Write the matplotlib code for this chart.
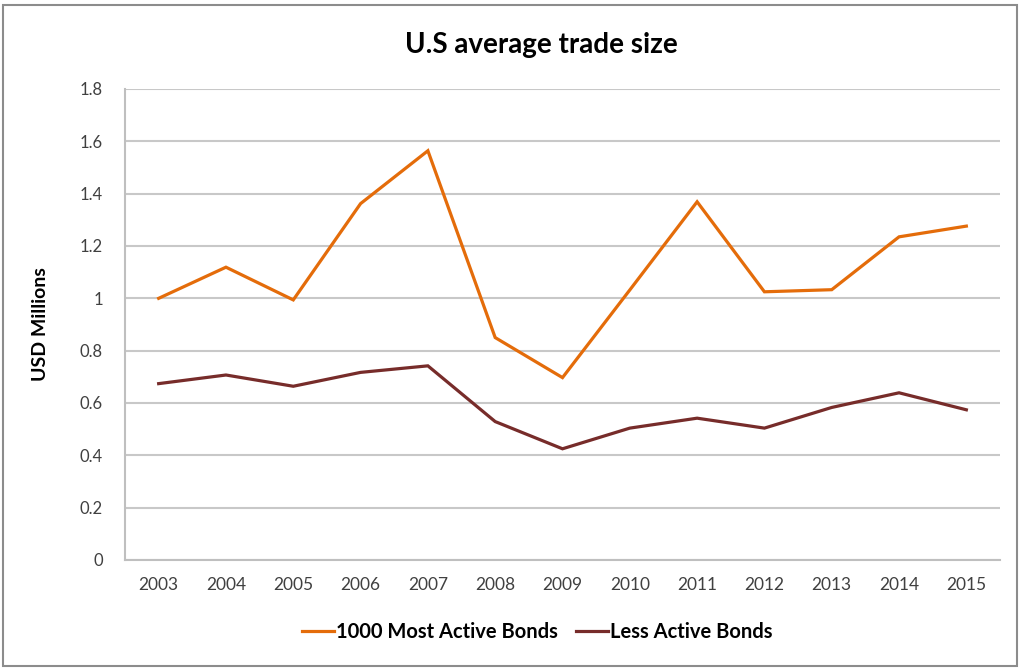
import matplotlib
matplotlib.use("Agg")
import matplotlib.pyplot as plt
from matplotlib.patches import Rectangle

years = ["2003", "2004", "2005", "2006", "2007", "2008", "2009",
         "2010", "2011", "2012", "2013", "2014", "2015"]
most_active = [1.00, 1.119, 0.994, 1.362, 1.564, 0.850, 0.697,
               1.032, 1.369, 1.025, 1.033, 1.235, 1.276]
less_active = [0.674, 0.707, 0.664, 0.717, 0.742, 0.529, 0.425,
               0.504, 0.542, 0.504, 0.583, 0.639, 0.574]
yticks = [0, 0.2, 0.4, 0.6, 0.8, 1.0, 1.2, 1.4, 1.6, 1.8]
ytick_labels = ["0", "0.2", "0.4", "0.6", "0.8", "1", "1.2", "1.4", "1.6", "1.8"]

plt.rcParams['font.family'] = ['Lato', 'DejaVu Sans']

fig = plt.figure(figsize=(10.21, 6.68), dpi=100)
ax = fig.add_axes([125/1021, 1-560/668, 875/1021, 471/668])

x = list(range(len(years)))
ax.plot(x, most_active, color='#E46C0A', lw=2.3, label='1000 Most Active Bonds', solid_joinstyle='miter')
ax.plot(x, less_active, color='#772C2A', lw=2.3, label='Less Active Bonds', solid_joinstyle='miter')

ax.set_xlim(-0.5, len(years) - 0.5)
ax.set_ylim(0, 1.8)
ax.set_yticks(yticks)
ax.set_yticklabels(ytick_labels, fontsize=12, color='#404040')
ax.set_xticks(x)
ax.set_xticklabels(years, fontsize=12.5, color='#404040')
ax.tick_params(length=0)
ax.tick_params(axis='x', pad=12)
ax.tick_params(axis='y', pad=16)
ax.yaxis.grid(True, color='#c8c8c8', lw=1.5)
ax.set_axisbelow(True)
for s in ['top', 'right']:
    ax.spines[s].set_visible(False)
ax.spines['left'].set_color('#bfbfbf')
ax.spines['left'].set_linewidth(1.5)
ax.spines['bottom'].set_color('#bfbfbf')
ax.spines['bottom'].set_linewidth(1.5)

ax.set_ylabel('USD Millions', fontsize=14, fontweight='bold', color='#000000', labelpad=22)
fig.text(541/1021, 1-45/668, 'U.S average trade size', ha='center', va='center',
         fontsize=20, fontweight='bold', color='#000000')

leg = fig.legend(loc='center', bbox_to_anchor=(537/1021, 1-632/668), ncol=2, frameon=False,
                 prop={'size': 14.5, 'weight': 'bold'}, handlelength=1.6, handletextpad=0.1,
                 columnspacing=0.9)
for t in leg.get_texts():
    t.set_color('#000000')

fig.patches.append(Rectangle((3/1021, 2/668), 1014/1021, 661/668, transform=fig.transFigure,
                             fill=False, edgecolor='#8c8c8c', lw=1.5))

fig.savefig('out.png', dpi=100)
